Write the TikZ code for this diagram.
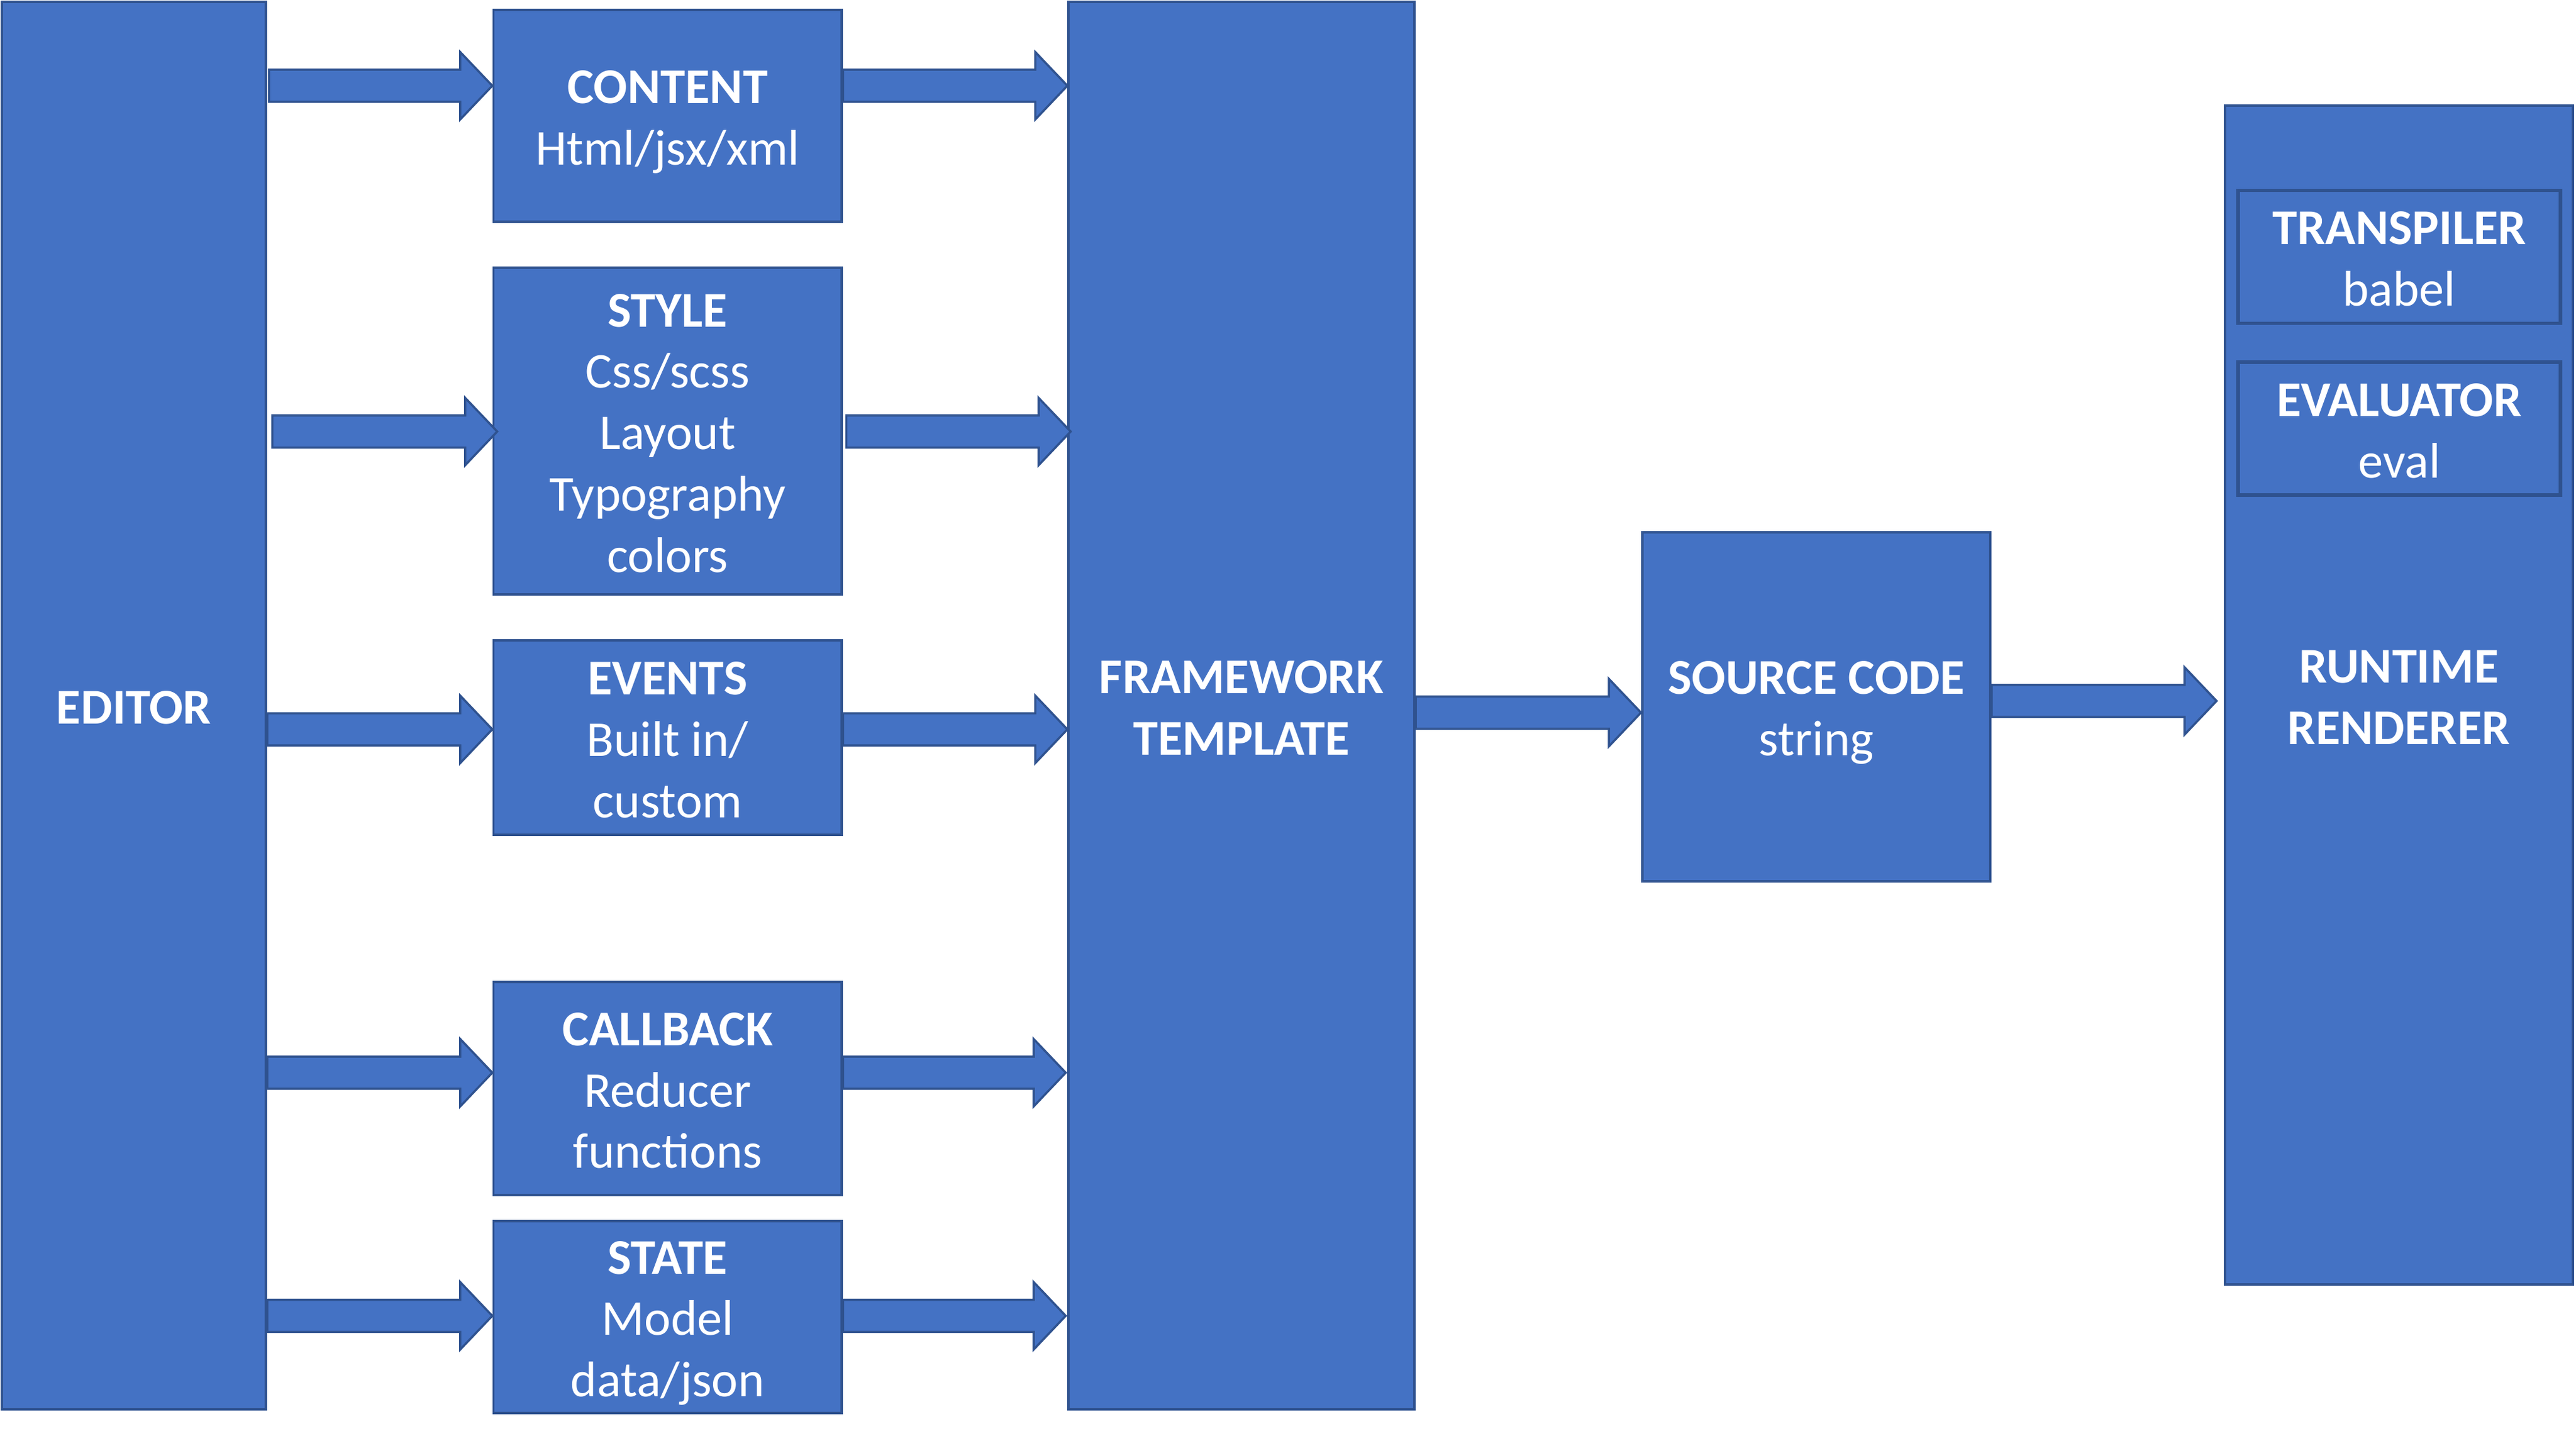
\documentclass[tikz,border=0pt]{standalone}
\usepackage{fontspec}
\setmainfont{Carlito}
\usetikzlibrary{calc}
\definecolor{boxfill}{HTML}{4472C4}
\definecolor{boxline}{HTML}{2F528F}
\newcommand\ls{\rule[-5.6pt]{0pt}{33.6pt}}
\newcommand\barrow[5]{% from, to, y, start shift, tip shift
  \coordinate (ay) at (0,#3);
  \draw[blockarrow] let \p1=(#1.east |- ay), \p2=(#2.west |- ay) in
    (\x1+#4,\y1+9.8pt) -- (\x2+#5-19.5pt,\y1+9.8pt) -- (\x2+#5-19.5pt,\y1+20.5pt)
    -- (\x2+#5,\y1) -- (\x2+#5-19.5pt,\y1-20.5pt) -- (\x2+#5-19.5pt,\y1-9.8pt)
    -- (\x1+#4,\y1-9.8pt) -- cycle;
}
\tikzset{
  blk/.style={draw=boxline, fill=boxfill, line width=1.5pt, inner sep=0pt,
    text=white, align=center, font=\fontsize{30.5}{37.4}\selectfont},
  inblk/.style={blk, line width=2pt},
  blockarrow/.style={draw=boxline, fill=boxfill, line width=1.3pt, line join=miter},
}
\begin{document}
\begin{tikzpicture}[x=1pt,y=-1pt]
\useasboundingbox (0,0) rectangle (1568,877);
\node[blk, minimum width=161, minimum height=857] (editor) at (81.5,429.5) {\ls\textbf{EDITOR}\ls};
\node[blk, minimum width=212, minimum height=129] (content) at (406.4,70.5) {\ls\textbf{CONTENT}\\\ls Html/jsx/xml};
\node[blk, minimum width=212, minimum height=199] (style) at (406.4,262.5) {\ls\textbf{STYLE}\\Css/scss\\Layout\\Typography\\\ls colors};
\node[blk, minimum width=212, minimum height=118] (events) at (406.4,449) {\ls\textbf{EVENTS}\\Built in/\\\ls custom};
\node[blk, minimum width=212, minimum height=130] (callback) at (406.4,662.6) {\ls\textbf{CALLBACK}\\Reducer\\\ls functions};
\node[blk, minimum width=212, minimum height=117] (state) at (406.4,801.7) {\ls\textbf{STATE}\\Model\\\ls data/json};
\node[blk, minimum width=210.5, minimum height=857] (framework) at (755.7,429.5) {\ls\textbf{FRAMEWORK}\\\ls\textbf{TEMPLATE}};
\node[blk, minimum width=212, minimum height=212.5] (source) at (1105.6,430.2) {\ls\textbf{SOURCE CODE}\\\ls string};
\node[blk, minimum width=211.5, minimum height=717.7] (runtime) at (1460.2,423.2) {\ls\textbf{RUNTIME}\\\ls\textbf{RENDERER}};
\node[inblk, minimum width=196.3, minimum height=81] (transpiler) at (1460.4,156.3) {\ls\textbf{TRANSPILER}\\\ls babel};
\node[inblk, minimum width=196.3, minimum height=81] (evaluator) at (1460.4,260.9) {\ls\textbf{EVALUATOR}\\\ls eval};

\barrow{editor}{content}{52.2}{1pt}{0pt}
\barrow{content}{framework}{52.2}{0pt}{0pt}
\barrow{editor}{style}{262.7}{3pt}{3pt}
\barrow{style}{framework}{262.7}{2pt}{2pt}
\barrow{editor}{events}{444}{0pt}{0pt}
\barrow{events}{framework}{444}{0pt}{0pt}
\barrow{editor}{callback}{653}{0pt}{0pt}
\barrow{callback}{framework}{653}{0pt}{-1pt}
\barrow{editor}{state}{801}{0pt}{0pt}
\barrow{state}{framework}{801}{0pt}{-1pt}
\barrow{framework}{source}{433.8}{0pt}{0pt}
\barrow{source}{runtime}{426.7}{0pt}{-4.5pt}
\end{tikzpicture}
\end{document}
